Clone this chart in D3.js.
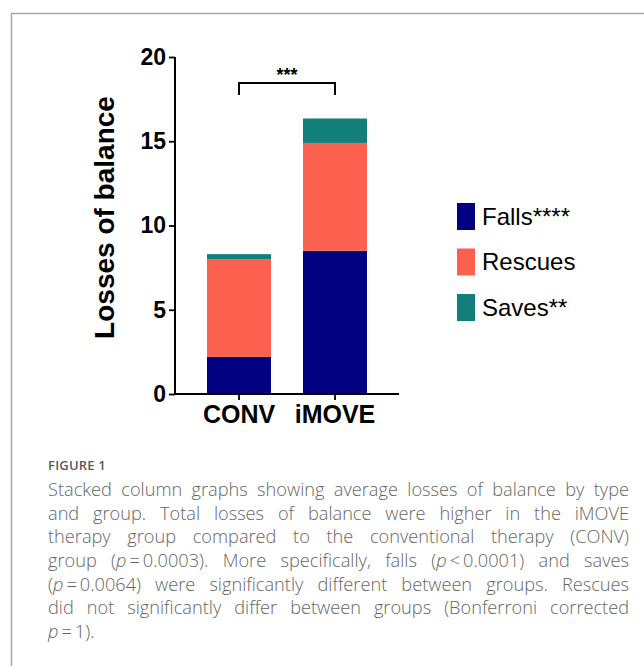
<!DOCTYPE html>
<html>
<head>
<meta charset="utf-8">
<script src="https://cdn.jsdelivr.net/npm/d3@7/dist/d3.min.js"></script>
<style>
  body { margin: 0; background: #fff; }
  #wrap { position: relative; width: 644px; height: 666px; overflow: hidden; }
  svg { position: absolute; left: 0; top: 0; }
  .caption { position: absolute; left: 48px; width: 581px; font-family: "Open Sans", sans-serif; }
  .fig { top: 456px; font-size: 13px; font-weight: 600; color: #5a5a5a; letter-spacing: 0.2px; }
  .line { font-size: 18.2px; font-weight: 300; color: #666; text-align: justify; text-align-last: justify; white-space: nowrap; height: 23.7px; line-height: 23.7px; }
  .line.last { text-align-last: left; }
  .line i { font-style: italic; }
</style>
</head>
<body>
<div id="wrap">
  <div id="chart"></div>
  <div class="caption fig">FIGURE 1</div>
  <div class="caption" id="cap" style="top:478px"></div>
</div>
<script>
// data
const groups = ['CONV', 'iMOVE'];
const seriesNames = ['Falls', 'Rescues', 'Saves'];
const legendLabels = ['Falls****', 'Rescues', 'Saves**'];
const falls = [2.2, 8.5];
const rescues = [5.8, 6.4];
const saves = [0.3, 1.45];
const yTicks = [0, 5, 10, 15, 20];
const colors = ['#000080', '#fc6150', '#127f7b'];
const sigLabel = '***';

const captionLines = [
  'Stacked column graphs showing average losses of balance by type',
  'and group. Total losses of balance were higher in the iMOVE',
  'therapy group compared to the conventional therapy (CONV)',
  'group (<i>p</i>&thinsp;=&thinsp;0.0003). More specifically, falls (<i>p</i>&thinsp;&lt;&thinsp;0.0001) and saves',
  '(<i>p</i>&thinsp;=&thinsp;0.0064) were significantly different between groups. Rescues',
  'did not significantly differ between groups (Bonferroni corrected',
  '<i>p</i>&thinsp;=&thinsp;1).'
];

const width = 644, height = 666;
const svg = d3.select('#chart').append('svg')
  .attr('width', width).attr('height', height);

// frame
svg.append('path')
  .attr('d', `M11.5,${height} V13.5 H${width}`)
  .attr('fill', 'none').attr('stroke', '#a9a9a9').attr('stroke-width', 1.5);

const y = d3.scaleLinear().domain([0, 20]).range([394, 57]);
const x = d3.scaleBand().domain(groups).range([175, 399])
  .paddingInner(1 / 3).paddingOuter(1 / 3);

const rows = groups.map((g, i) => ({ group: g, Falls: falls[i], Rescues: rescues[i], Saves: saves[i] }));
const stack = d3.stack().keys(seriesNames)(rows);

svg.append('g').selectAll('g')
  .data(stack)
  .join('g')
  .attr('fill', (d, i) => colors[i])
  .selectAll('rect')
  .data(d => d)
  .join('rect')
  .attr('x', d => x(d.data.group))
  .attr('y', d => y(d[1]))
  .attr('width', x.bandwidth())
  .attr('height', d => y(d[0]) - y(d[1]));

// y axis
const yAxis = svg.append('g').attr('transform', 'translate(175,0)');
yAxis.call(d3.axisLeft(y).tickValues(d3.range(0, 21, 1)).tickSize(3).tickFormat(''))
  .call(g => g.select('.domain').remove());
yAxis.call(d3.axisLeft(y).tickValues(yTicks).tickSize(6).tickPadding(3))
  .call(g => g.select('.domain').remove());
yAxis.selectAll('line').attr('stroke', '#000').attr('stroke-width', 1.8);
yAxis.selectAll('text')
  .attr('font-family', 'Liberation Sans, Arial, sans-serif')
  .attr('font-weight', 'bold').attr('font-size', 23).attr('fill', '#000');
yAxis.append('line').attr('x1', 0).attr('x2', 0).attr('y1', y(20)).attr('y2', y(0) + 1)
  .attr('stroke', '#000').attr('stroke-width', 2);

// x axis
const xAxis = svg.append('g').attr('transform', `translate(0,${y(0)})`);
xAxis.call(d3.axisBottom(x).tickSize(6).tickPadding(5))
  .call(g => g.select('.domain').remove());
xAxis.selectAll('line').attr('stroke', '#000').attr('stroke-width', 1.8);
xAxis.selectAll('text')
  .attr('font-family', 'Liberation Sans, Arial, sans-serif')
  .attr('font-weight', 'bold').attr('font-size', 25).attr('fill', '#000');
xAxis.append('line').attr('x1', 174).attr('x2', 399).attr('y1', 0).attr('y2', 0)
  .attr('stroke', '#000').attr('stroke-width', 2);

// axis title
svg.append('text')
  .attr('transform', `translate(114,${(y(0) + y(20)) / 2 - 8}) rotate(-90)`)
  .attr('text-anchor', 'middle')
  .attr('font-family', 'Liberation Sans, Arial, sans-serif')
  .attr('font-weight', 'bold').attr('font-size', 28)
  .text('Losses of balance');

// significance bracket
const x1 = x('CONV') + x.bandwidth() / 2, x2 = x('iMOVE') + x.bandwidth() / 2;
const by = 83;
svg.append('path')
  .attr('d', `M${x1},${by + 12} V${by} H${x2} V${by + 12}`)
  .attr('fill', 'none').attr('stroke', '#000').attr('stroke-width', 2);
svg.append('text')
  .attr('x', (x1 + x2) / 2).attr('y', 81)
  .attr('text-anchor', 'middle')
  .attr('font-family', 'Liberation Sans, Arial, sans-serif')
  .attr('font-weight', 'bold').attr('font-size', 18)
  .text(sigLabel);

// legend
const legend = svg.append('g').attr('transform', 'translate(457,203)');
const items = legend.selectAll('g').data(legendLabels).join('g')
  .attr('transform', (d, i) => `translate(0,${i * 45.5})`);
items.append('rect').attr('width', 18).attr('height', 27)
  .attr('fill', (d, i) => colors[i]);
items.append('text').attr('x', 25).attr('y', 13.5).attr('dy', '0.35em')
  .attr('font-family', 'Liberation Sans, Arial, sans-serif')
  .attr('font-size', 24)
  .text(d => d);

// caption
d3.select('#cap').selectAll('div').data(captionLines).join('div')
  .attr('class', (d, i) => i === captionLines.length - 1 ? 'line last' : 'line')
  .html(d => d);
</script>
</body>
</html>
